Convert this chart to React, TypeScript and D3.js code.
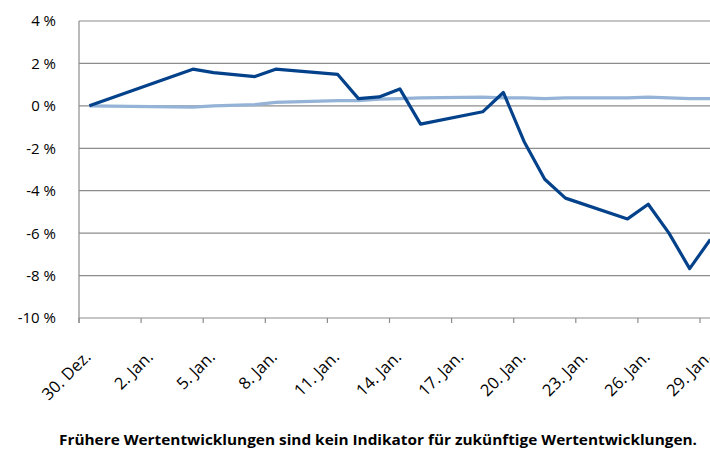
import * as d3 from 'd3';

// days since 30 Dec
const DAYS = [0, 5, 6, 8, 9, 12, 13, 14, 15, 16, 19, 20, 21, 22, 23, 26, 27, 28, 29, 30];
const FUND = [0, 1.73, 1.57, 1.38, 1.73, 1.48, 0.34, 0.42, 0.8, -0.86, -0.28, 0.63, -1.68, -3.46, -4.35, -5.33, -4.64, -6.0, -7.67, -6.3];
const BENCH = [0, -0.06, 0.0, 0.06, 0.16, 0.25, 0.25, 0.32, 0.34, 0.38, 0.41, 0.38, 0.38, 0.34, 0.38, 0.38, 0.41, 0.38, 0.34, 0.34];

const X_TICKS = [0, 3, 6, 9, 12, 15, 18, 21, 24, 27, 30];
const X_LABELS = ['30. Dez.', '2. Jan.', '5. Jan.', '8. Jan.', '11. Jan.', '14. Jan.', '17. Jan.', '20. Jan.', '23. Jan.', '26. Jan.', '29. Jan.'];
const Y_TICKS = [4, 2, 0, -2, -4, -6, -8, -10];

const FOOTNOTE = 'Frühere Wertentwicklungen sind kein Indikator für zukünftige Wertentwicklungen.';

const W = 710;
const H = 450;
const LEFT = 79;
const TOP = 21;
const BOTTOM = 318;
const FONT = '"Open Sans", "Noto Sans", sans-serif';

export default function App() {
  const x = d3.scaleLinear().domain([0, 31]).range([LEFT, LEFT + 31 * 20.7]);
  const y = d3.scaleLinear().domain([-10, 4]).range([BOTTOM, TOP]);

  const line = d3
    .line<number>()
    .x((_, i) => x(DAYS[i] + 0.5))
    .y(d => y(d));

  return (
    <svg
      width={W}
      height={H}
      style={{ position: 'absolute', left: 0, top: 0, background: '#fff' }}
    >
      {/* grid */}
      {Y_TICKS.map(t => (
        <line key={t} x1={LEFT} x2={W} y1={y(t)} y2={y(t)} stroke="#8c8c8c" strokeWidth={1.2} />
      ))}
      <line x1={LEFT} x2={LEFT} y1={TOP} y2={BOTTOM + 5} stroke="#8c8c8c" strokeWidth={1.2} />
      {X_TICKS.map(t => (
        <line key={t} x1={x(t)} x2={x(t)} y1={BOTTOM} y2={BOTTOM + 5} stroke="#8c8c8c" strokeWidth={1.2} />
      ))}

      {/* y labels */}
      {Y_TICKS.map(t => (
        <text key={t} x={56} y={y(t)} dy="0.36em" textAnchor="end" fontFamily={FONT} fontSize={15} fill="#000">
          {`${t} %`}
        </text>
      ))}

      {/* x labels */}
      {X_TICKS.map((t, i) => (
        <text
          key={t}
          transform={`translate(${x(t + 0.5) + 2.5},${BOTTOM + 40}) rotate(-45)`}
          textAnchor="end"
          fontFamily={FONT}
          fontSize={16.5}
          fill="#000"
        >
          {X_LABELS[i]}
        </text>
      ))}

      <path d={line(BENCH) ?? ''} fill="none" stroke="#95b3d7" strokeWidth={3.2} strokeLinejoin="round" />
      <path d={line(FUND) ?? ''} fill="none" stroke="#03428a" strokeWidth={3.2} strokeLinejoin="round" />

      <text
        x={59}
        y={445}
        textLength={638}
        lengthAdjust="spacingAndGlyphs"
        fontFamily={FONT}
        fontSize={14}
        fontWeight="bold"
        fill="#000"
      >
        {FOOTNOTE}
      </text>
    </svg>
  );
}
